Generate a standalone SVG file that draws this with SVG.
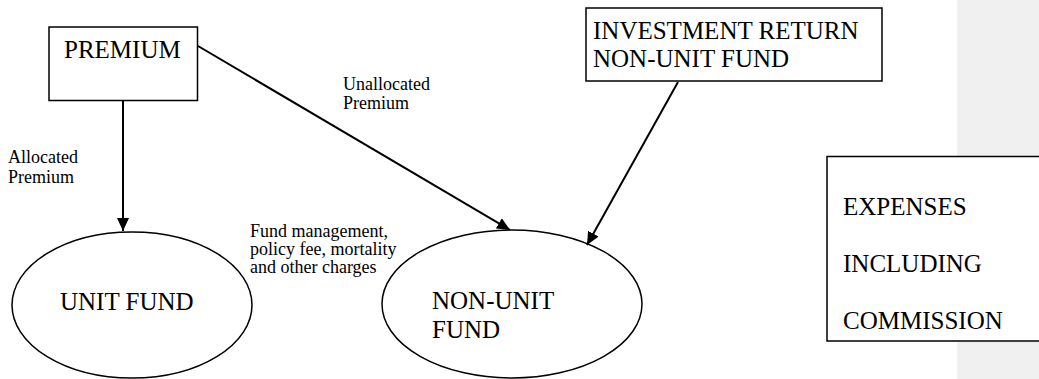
<svg xmlns="http://www.w3.org/2000/svg" width="1039" height="379" viewBox="0 0 1039 379">
<style>
.box{fill:#fff;stroke:#000;stroke-width:1.5}
.big{font-family:"Liberation Serif","Times New Roman",serif;font-size:25px;fill:#000}
.sm{font-family:"Liberation Serif","Times New Roman",serif;font-size:18px;fill:#000}
.conn{stroke:#000;stroke-width:2;fill:none}
</style>
<defs>
<marker id="ah" markerUnits="userSpaceOnUse" markerWidth="14" markerHeight="12" refX="13" refY="6" orient="auto">
<path d="M0,0 L13,6 L0,12 z" fill="#000"/>
</marker>
</defs>
<rect x="957" y="0" width="82" height="379" fill="#f0f0f0"/>
<g id="premium">
<rect class="box" x="49" y="27" width="148.5" height="73.5"/>
<text class="big" x="64" y="58">PREMIUM</text>
</g>
<g id="investment">
<rect class="box" x="586" y="8" width="296" height="73"/>
<text class="big" x="593" y="39">INVESTMENT RETURN</text>
<text class="big" x="593" y="67">NON-UNIT FUND</text>
</g>
<g id="unit-fund">
<ellipse class="box" cx="132" cy="305" rx="120" ry="73"/>
<text class="big" x="60" y="310">UNIT FUND</text>
</g>
<g id="non-unit-fund">
<ellipse class="box" cx="512" cy="304" rx="130" ry="74"/>
<text class="big" x="432" y="309">NON-UNIT</text>
<text class="big" x="432" y="338">FUND</text>
</g>
<g id="expenses">
<rect class="box" x="827" y="156.5" width="220" height="184.5"/>
<text class="big" x="843" y="215">EXPENSES</text>
<text class="big" x="843" y="272">INCLUDING</text>
<text class="big" x="843" y="329">COMMISSION</text>
</g>
<g id="connectors">
<line class="conn" x1="123" y1="101" x2="123" y2="231" marker-end="url(#ah)"/>
<line class="conn" x1="198" y1="46" x2="510" y2="230" marker-end="url(#ah)"/>
<line class="conn" x1="678" y1="82" x2="587" y2="245" marker-end="url(#ah)"/>
</g>
<g id="labels">
<text class="sm" x="8" y="163">Allocated</text>
<text class="sm" x="8" y="183">Premium</text>
<text class="sm" x="343" y="90">Unallocated</text>
<text class="sm" x="343" y="109">Premium</text>
<text class="sm" x="250" y="237">Fund management,</text>
<text class="sm" x="250" y="255">policy fee, mortality</text>
<text class="sm" x="250" y="273">and other charges</text>
</g>
</svg>
